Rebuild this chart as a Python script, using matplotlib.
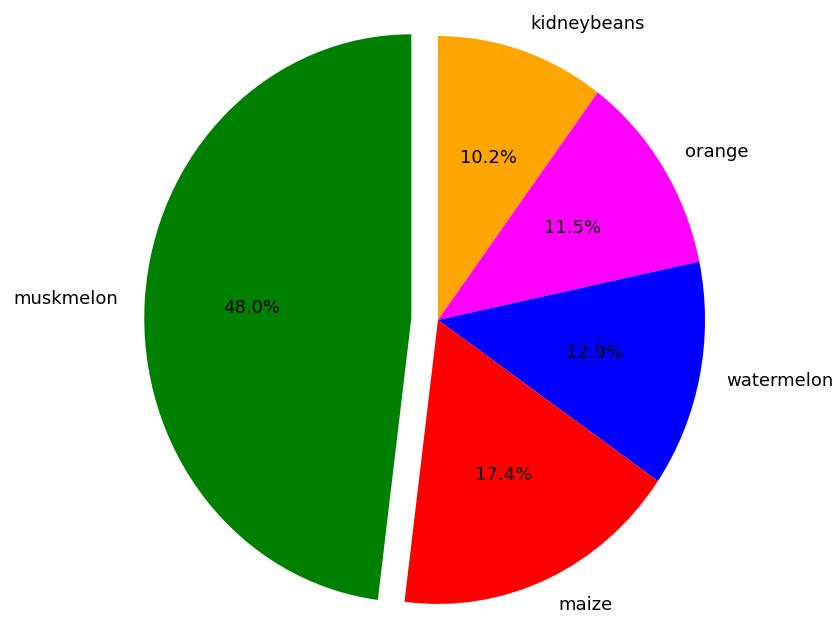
import matplotlib
matplotlib.use("Agg")
import matplotlib.pyplot as plt

# data, read clockwise from the top
crops = ['kidneybeans', 'orange', 'watermelon', 'maize', 'muskmelon']
shares = [10.2, 11.5, 12.9, 17.4, 48.0]
colors = ['orange', 'magenta', 'blue', 'red', 'green']
explode = [0, 0, 0, 0, 0.1]

fig = plt.figure(figsize=(8.34, 6.17), dpi=100)
ax = fig.add_axes([0, 0, 1, 1])

ax.pie(shares, labels=crops, colors=colors, explode=explode,
       autopct='%1.1f%%', startangle=90, counterclock=False,
       textprops={'fontsize': 13})

# the reference is slightly stretched vertically
ax.set_aspect('auto')
ax.set_xlim(-1.640, 1.483)
ax.set_ylim(-1.046, 1.127)
ax.axis('off')

fig.savefig('out.png', dpi=100)
